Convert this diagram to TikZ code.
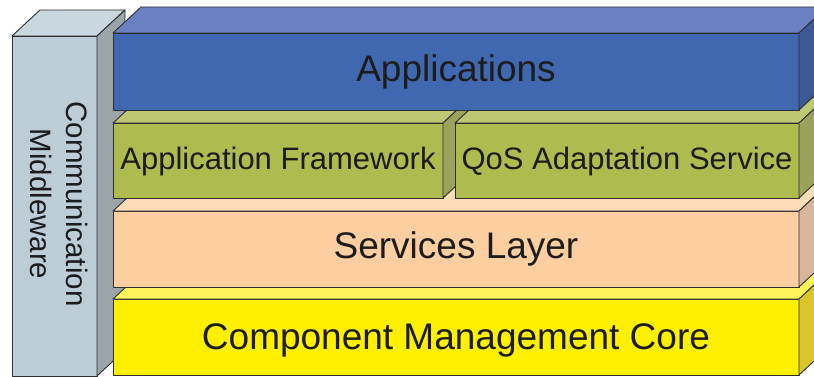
\documentclass[tikz,border=0pt]{standalone}
\usepackage{fontspec}
\setmainfont{Liberation Sans}
\definecolor{appFront}{HTML}{3F68B0}
\definecolor{appTop}{HTML}{6B80C2}
\definecolor{appSide}{HTML}{3E5A96}
\definecolor{grnFront}{HTML}{AEBC4F}
\definecolor{grnTop}{HTML}{BDC874}
\definecolor{grnSide}{HTML}{99A35B}
\definecolor{svcFront}{HTML}{FDCE9F}
\definecolor{svcTop}{HTML}{FDDCB8}
\definecolor{svcSide}{HTML}{D6B59B}
\definecolor{cmcFront}{HTML}{FFF000}
\definecolor{cmcTop}{HTML}{FFF45A}
\definecolor{cmcSide}{HTML}{D9C52C}
\definecolor{midFront}{HTML}{BCCDD7}
\definecolor{midTop}{HTML}{C9D7DF}
\definecolor{midSide}{HTML}{9BA4A9}
\definecolor{edge}{HTML}{2E2E2E}
\definecolor{ink}{HTML}{1C1C1C}
\tikzset{
  facet/.style={draw=edge, line width=0.9pt, line join=round},
  lbl/.style={text=ink, font=\fontsize{37}{40}\selectfont, inner sep=0pt, anchor=base},
  lblsmall/.style={text=ink, font=\fontsize{31}{34}\selectfont, inner sep=0pt, anchor=base},
  lblside/.style={text=ink, font=\fontsize{29.5}{36}\selectfont, inner sep=0pt, align=center, rotate=-90},
}
% extruded box: front face (x0,y0)-(x1,y1), top face, right face
\newcommand{\slab}[7]{%
  \filldraw[facet, fill=#5] (#1,#2) rectangle (#3,#4);
  \filldraw[facet, fill=#6] (#1,#2) -- (#1+28,#2-26) -- (#3+28,#2-26) -- (#3,#2) -- cycle;
  \filldraw[facet, fill=#7] (#3,#2) -- (#3+28,#2-26) -- (#3+28,#4-26) -- (#3,#4) -- cycle;
}
\begin{document}
\begin{tikzpicture}[x=1pt, y=-1pt]
  \useasboundingbox (0,0) rectangle (814,377);
  \clip (0,0) rectangle (814,377);
  % vertical middleware column
  \slab{12}{36}{97}{376}{midFront}{midTop}{midSide}
  \node[lblside] (mid) at (59,204) {Communication\\Middleware};
  % stacked layers, lowest first
  \slab{113}{299}{799}{375}{cmcFront}{cmcTop}{cmcSide}
  \node[lbl] (cmc) at (456,349) {Component Management Core};
  \slab{113}{211}{799}{287}{svcFront}{svcTop}{svcSide}
  \node[lbl] (svc) at (456,258) {Services Layer};
  \slab{113}{123}{443}{198}{grnFront}{grnTop}{grnSide}
  \node[lblsmall] (fw) at (278,169) {Application Framework};
  \slab{455}{123}{799}{198}{grnFront}{grnTop}{grnSide}
  \node[lblsmall] (qos) at (627,169) {QoS Adaptation Service};
  \slab{113}{33}{799}{110}{appFront}{appTop}{appSide}
  \node[lbl] (app) at (456,82) {Applications};
\end{tikzpicture}
\end{document}
